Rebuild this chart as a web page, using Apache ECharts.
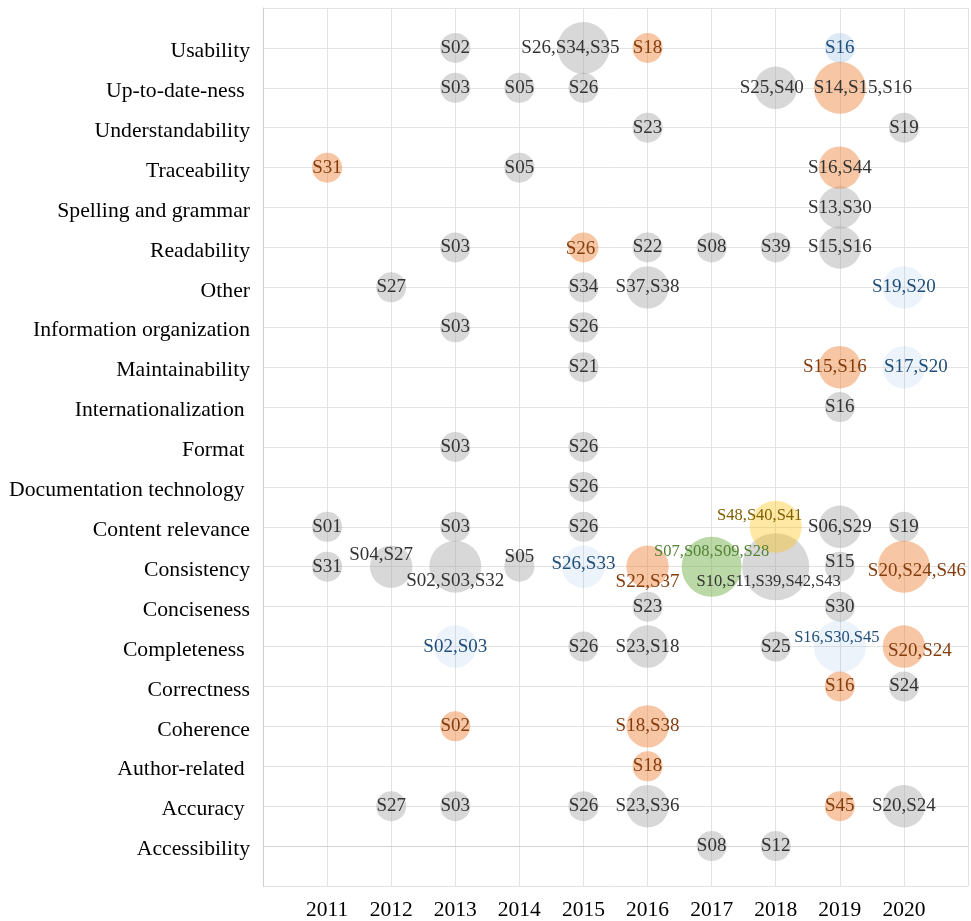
<!DOCTYPE html>
<html>
<head>
<meta charset="utf-8">
<script src="https://cdn.jsdelivr.net/npm/echarts@6/dist/echarts.min.js"></script>
<style>
  html, body { margin: 0; padding: 0; background: #fff; }
  #main { width: 971px; height: 921px; }
</style>
</head>
<body>
<div id="main"></div>
<script>
// quality attributes, bottom to top
var categories = ['Accessibility', 'Accuracy ', 'Author-related ', 'Coherence', 'Correctness', 'Completeness ',
  'Conciseness', 'Consistency', 'Content relevance', 'Documentation technology ', 'Format ',
  'Internationalization ', 'Maintainability', 'Information organization', 'Other', 'Readability',
  'Spelling and grammar', 'Traceability', 'Understandability', 'Up-to-date-ness ', 'Usability']
var years = [2011, 2012, 2013, 2014, 2015, 2016, 2017, 2018, 2019, 2020]

// [year, attribute, studies, group]
var usability = [[2013, 'Usability', 'S02', 'g'], [2015, 'Usability', 'S26,S34,S35', 'g'], [2016, 'Usability', 'S18', 'o'], [2019, 'Usability', 'S16', 'b2']]
var upToDate = [[2013, 'Up-to-date-ness ', 'S03', 'g'], [2014, 'Up-to-date-ness ', 'S05', 'g'], [2015, 'Up-to-date-ness ', 'S26', 'g'],
  [2018, 'Up-to-date-ness ', 'S25,S40', 'g'], [2019, 'Up-to-date-ness ', 'S14,S15,S16', 'o']]
var understand = [[2016, 'Understandability', 'S23', 'g'], [2020, 'Understandability', 'S19', 'g']]
var trace = [[2011, 'Traceability', 'S31', 'o'], [2014, 'Traceability', 'S05', 'g'], [2019, 'Traceability', 'S16,S44', 'o']]
var spelling = [[2019, 'Spelling and grammar', 'S13,S30', 'g']]
var readability = [[2013, 'Readability', 'S03', 'g'], [2015, 'Readability', 'S26', 'o'], [2016, 'Readability', 'S22', 'g'],
  [2017, 'Readability', 'S08', 'g'], [2018, 'Readability', 'S39', 'g'], [2019, 'Readability', 'S15,S16', 'g']]
var other = [[2012, 'Other', 'S27', 'g'], [2015, 'Other', 'S34', 'g'], [2016, 'Other', 'S37,S38', 'g'], [2020, 'Other', 'S19,S20', 'b']]
var infoOrg = [[2013, 'Information organization', 'S03', 'g'], [2015, 'Information organization', 'S26', 'g']]
var maintain = [[2015, 'Maintainability', 'S21', 'g'], [2019, 'Maintainability', 'S15,S16', 'o'], [2020, 'Maintainability', 'S17,S20', 'b']]
var intl = [[2019, 'Internationalization ', 'S16', 'g']]
var format = [[2013, 'Format ', 'S03', 'g'], [2015, 'Format ', 'S26', 'g']]
var docTech = [[2015, 'Documentation technology ', 'S26', 'g']]
var relevance = [[2011, 'Content relevance', 'S01', 'g'], [2013, 'Content relevance', 'S03', 'g'], [2015, 'Content relevance', 'S26', 'g'],
  [2018, 'Content relevance', 'S48,S40,S41', 'y'], [2019, 'Content relevance', 'S06,S29', 'g'], [2020, 'Content relevance', 'S19', 'g']]
var consistency = [[2011, 'Consistency', 'S31', 'g'], [2012, 'Consistency', 'S04,S27', 'g'], [2013, 'Consistency', 'S02,S03,S32', 'g'],
  [2014, 'Consistency', 'S05', 'g'], [2015, 'Consistency', 'S26,S33', 'b'], [2016, 'Consistency', 'S22,S37', 'o'],
  [2017, 'Consistency', 'S07,S08,S09,S28', 'gr'], [2018, 'Consistency', 'S10,S11,S39,S42,S43', 'g'],
  [2019, 'Consistency', 'S15', 'g'], [2020, 'Consistency', 'S20,S24,S46', 'o']]
var concise = [[2016, 'Conciseness', 'S23', 'g'], [2019, 'Conciseness', 'S30', 'g']]
var complete = [[2013, 'Completeness ', 'S02,S03', 'b'], [2015, 'Completeness ', 'S26', 'g'], [2016, 'Completeness ', 'S23,S18', 'g'],
  [2018, 'Completeness ', 'S25', 'g'], [2019, 'Completeness ', 'S16,S30,S45', 'b'], [2020, 'Completeness ', 'S20,S24', 'o']]
var correct = [[2019, 'Correctness', 'S16', 'o'], [2020, 'Correctness', 'S24', 'g']]
var coherence = [[2013, 'Coherence', 'S02', 'o'], [2016, 'Coherence', 'S18,S38', 'o']]
var author = [[2016, 'Author-related ', 'S18', 'o']]
var accuracy = [[2012, 'Accuracy ', 'S27', 'g'], [2013, 'Accuracy ', 'S03', 'g'], [2015, 'Accuracy ', 'S26', 'g'],
  [2016, 'Accuracy ', 'S23,S36', 'g'], [2019, 'Accuracy ', 'S45', 'o'], [2020, 'Accuracy ', 'S20,S24', 'g']]
var access = [[2017, 'Accessibility', 'S08', 'g'], [2018, 'Accessibility', 'S12', 'g']]

var allRows = [].concat(usability, upToDate, understand, trace, spelling, readability, other, infoOrg, maintain,
  intl, format, docTech, relevance, consistency, concise, complete, correct, coherence, author, accuracy, access)

// look of each group
var fills = {
  g: 'rgba(160,160,160,0.52)',
  o: 'rgba(237,125,49,0.55)',
  b: 'rgba(91,155,213,0.15)',
  b2: 'rgba(91,155,213,0.25)',
  gr: 'rgba(112,173,71,0.6)',
  y: 'rgba(255,192,0,0.45)'
}
var inks = { g: '#333333', o: '#843c0c', b: '#1f4e79', b2: '#1f4e79', gr: '#548235', y: '#7f6000' }

// label tweaks: year|attribute -> [dx, dy, fontSize, color]
var tweaks = {
  '2015|Usability': [-13, 0],
  '2018|Up-to-date-ness ': [-4, 0],
  '2019|Up-to-date-ness ': [23, 0, null, '#333333'],
  '2019|Traceability': [0, 0, null, '#333333'],
  '2015|Readability': [-3, 2],
  '2019|Maintainability': [-5, 0],
  '2020|Maintainability': [12, 0],
  '2018|Content relevance': [-16, -11, 16.5],
  '2012|Consistency': [-10, -12],
  '2013|Consistency': [0, 14],
  '2014|Consistency': [0, -10],
  '2015|Consistency': [0, -3],
  '2016|Consistency': [0, 15],
  '2017|Consistency': [0, -15, 16.5],
  '2018|Consistency': [-7, 15, 16.5],
  '2019|Consistency': [0, -5],
  '2020|Consistency': [13, 4],
  '2019|Completeness ': [-3, -9, 16.5],
  '2020|Completeness ': [16, 4]
}

var serif = '"Times New Roman", "Liberation Serif", serif'

function buildSeries(group) {
  var pts = allRows.filter(function (r) { return r[3] === group }).map(function (r) {
    var t = tweaks[r[0] + '|' + r[1]] || [0, 0]
    return {
      value: [r[0], categories.indexOf(r[1]), r[2]],
      symbolSize: 30 * Math.sqrt(r[2].split(',').length),
      label: {
        offset: [t[0], t[1]],
        fontSize: t[2] || 19,
        color: t[3] || inks[group],
        textBorderColor: 'transparent',
        textBorderWidth: 0
      }
    }
  })
  return {
    type: 'scatter',
    data: pts,
    itemStyle: { color: fills[group] },
    label: {
      show: true,
      position: 'inside',
      fontFamily: serif,
      textBorderColor: 'transparent',
      textBorderWidth: 0,
      opacity: 1,
      formatter: function (p) { return p.value[2] }
    },
    emphasis: { disabled: true }
  }
}

var chartDom = document.getElementById('main')
var myChart = echarts.init(chartDom)
var option = {
  animation: false,
  grid: { left: 263, right: 0, top: 8, bottom: 33 },
  xAxis: {
    type: 'value',
    min: 2010,
    max: 2021,
    interval: 1,
    axisLine: { show: true, lineStyle: { color: '#d4d4d4' } },
    axisTick: { show: false },
    splitLine: { show: true, lineStyle: { color: '#e3e3e3' } },
    axisLabel: {
      margin: 13,
      fontSize: 21.5,
      fontFamily: serif,
      color: '#000',
      formatter: function (v) { return years.indexOf(v) >= 0 ? String(v) : '' }
    }
  },
  yAxis: {
    type: 'value',
    min: -1,
    max: 21,
    interval: 1,
    axisLine: { show: true, lineStyle: { color: '#cfcfcf' } },
    axisTick: { show: false },
    splitLine: { show: true, lineStyle: { color: '#e3e3e3' } },
    axisLabel: {
      margin: 13,
      fontFamily: serif,
      color: '#000',
      formatter: function (v) {
        return v >= 0 && v < categories.length ? '{c|' + categories[v] + '}' : ''
      },
      rich: {
        c: { fontSize: 21.7, fontFamily: serif, color: '#000', padding: [7, 0, 0, 0] }
      }
    }
  },
  series: ['g', 'o', 'b', 'b2', 'gr', 'y'].map(buildSeries)
}
myChart.setOption(option)
</script>
</body>
</html>
